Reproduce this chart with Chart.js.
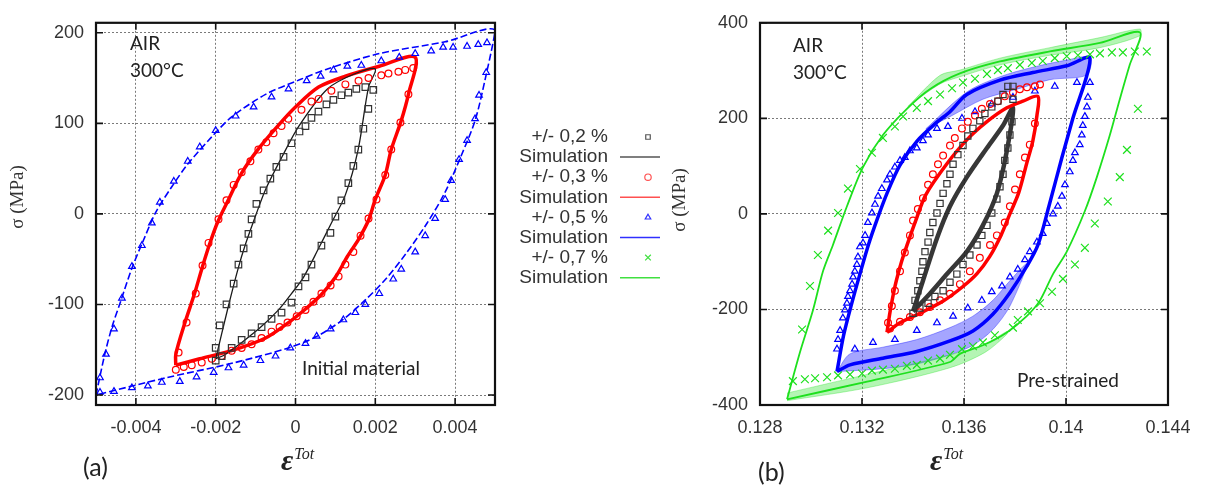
<!DOCTYPE html>
<html>
<head>
<meta charset="utf-8">
<script src="https://cdn.jsdelivr.net/npm/chart.js@4.4.1/dist/chart.umd.min.js"></script>
<style>
  body { margin: 0; background: #fff; }
  .wrap { position: relative; width: 1206px; height: 490px; }
  .wrap canvas { position: absolute; left: 0; top: 0; }
</style>
</head>
<body>
<div class="wrap">
  <canvas id="chartA" width="1206" height="490"></canvas>
  <canvas id="chartB" width="1206" height="490"></canvas>
</div>
<script>
// ---- panel (a) : initial material ----
const xTicksA = [-0.004, -0.002, 0, 0.002, 0.004];
const yTicksA = [-200, -100, 0, 100, 200];

const expA02 = [[-0.002,-148],[-0.0019,-123],[-0.00173,-100],[-0.00155,-77],[-0.00143,-56],[-0.0013,-38],[-0.00118,-22],
  [-0.0011,-6],[-0.00098,11],[-0.0008,26],[-0.00063,39],[-0.00048,52],[-0.0003,63],[-0.0001,78],[0.0001,91],[0.00025,97],
  [0.0004,106],[0.000575,113],[0.000775,121],[0.00095,126],[0.00115,131],[0.001325,134],[0.001525,138],[0.00175,140],[0.00195,137],
  [0.001825,116],[0.0017,94],[0.001575,71],[0.00145,53],[0.001325,34],[0.00115,15],[0.001,-3],[0.000875,-21],[0.00065,-35],
  [0.0004,-56],[0.00025,-70],[0.000075,-80],[-0.0001,-98],[-0.00035,-109],[-0.0006,-116],[-0.00085,-125],[-0.0011,-132],
  [-0.00135,-139],[-0.0016,-148],[-0.00185,-157],[-0.002,-162]];
const simA02 = [[-0.002,-160],[-0.0017,-105],[-0.00143,-59],[-0.00125,-33],[-0.001,-2],[-0.00075,27],[-0.00035,62],[0.0001,98],
  [0.0008,138],[0.0015,155],[0.002,160],[0.00183,140],[0.00157,71],[0.00125,21],[0.0009,-10],[0.00058,-38],[0.0002,-70],
  [-0.0001,-88],[-0.000425,-106],[-0.000925,-127],[-0.00175,-155],[-0.002,-160]];

const expA03 = [[-0.00293,-153],[-0.00273,-120],[-0.0025,-88],[-0.00233,-57],[-0.00218,-32],[-0.00193,-6],[-0.00173,15],
  [-0.00155,32],[-0.00135,46],[-0.00113,58],[-0.00093,71],[-0.00073,79],[-0.00055,89],[-0.00035,97],[-0.00018,105],[0.00015,115],
  [0.0004,124],[0.00058,127],[0.0009,136],[0.00125,143],[0.00158,147],[0.00183,150],[0.00215,153],[0.00233,155],[0.00258,157],
  [0.00275,159],[0.00295,161],[0.00283,132],[0.00263,101],[0.0024,71],[0.00225,43],[0.00203,16],[0.00183,-5],[0.00163,-24],
  [0.00145,-42],[0.00125,-56],[0.00108,-69],[0.00088,-79],[0.00065,-88],[0.00045,-97],[0.00025,-106],[0.00003,-113],[-0.0002,-120],
  [-0.0004,-125],[-0.0006,-130],[-0.00085,-137],[-0.0011,-144],[-0.00135,-148],[-0.0016,-151],[-0.00185,-157],[-0.0021,-160],
  [-0.00235,-164],[-0.0026,-167],[-0.0028,-169],[-0.003,-172]];
const simA03 = [[-0.003,-167],[-0.003,-155],[-0.00277,-120],[-0.00253,-88],[-0.00233,-58],[-0.00215,-33],[-0.00195,-9],
  [-0.0017,14],[-0.00135,45],[-0.000925,72],[-0.000425,98],[0,118],[0.00058,140],[0.00125,152],[0.0021,163],[0.003,173],
  [0.00283,132],[0.00265,103],[0.0024,71],[0.00225,43],[0.002,16],[0.00183,-7],[0.00158,-28],[0.0013,-47],[0.001,-70],
  [0.00065,-89],[0.00025,-105],[-0.000175,-120],[-0.00075,-137],[-0.0016,-151],[-0.0024,-160],[-0.003,-167]];

const expA05 = [[-0.0049,-181],[-0.00475,-155],[-0.00455,-127],[-0.00435,-93],[-0.0041,-58],[-0.00385,-35],[-0.0036,-10],
  [-0.0034,13],[-0.00305,36],[-0.0027,58],[-0.0024,74],[-0.002,92],[-0.0015,108],[-0.00105,118],[-0.0006,129],[-0.000175,138],
  [0.00028,147],[0.00063,152],[0.00095,159],[0.0013,163],[0.00165,164],[0.00215,169],[0.0026,173],[0.003,177],[0.0034,180],
  [0.0037,184],[0.00395,184],[0.0043,185],[0.00458,187],[0.0048,189],[0.00478,156],[0.0046,131],[0.0045,105],[0.0043,81],
  [0.0041,60],[0.0039,37],[0.00375,16],[0.0035,-5],[0.00325,-24],[0.003,-42],[0.00265,-61],[0.00245,-72],[0.0021,-88],
  [0.00175,-100],[0.0015,-109],[0.0012,-117],[0.00088,-127],[0.00053,-135],[0.00025,-143],[-0.00013,-148],[-0.0005,-157],
  [-0.00088,-162],[-0.0013,-167],[-0.00168,-170],[-0.00205,-175],[-0.00248,-180],[-0.0029,-185],[-0.00335,-186],[-0.0037,-190],
  [-0.0041,-192],[-0.00455,-196],[-0.0049,-197]];
const simA05 = [[-0.005,-200],[-0.00478,-155],[-0.0046,-125],[-0.00437,-95],[-0.0041,-60],[-0.0038,-28],[-0.0035,2],
  [-0.0031,30],[-0.0027,55],[-0.0021,85],[-0.0016,107],[-0.00075,132],[0.0001,148],[0.0008,160],[0.0021,177],[0.00375,190],
  [0.005,203],[0.00475,148],[0.0045,103],[0.00415,64],[0.00375,24],[0.0033,-10],[0.0028,-42],[0.0023,-70],[0.00175,-95],
  [0.00115,-118],[0.0005,-136],[-0.000175,-148],[-0.0016,-165],[-0.00325,-181],[-0.005,-200]];

// ---- panel (b) : pre-strained ----
const xTicksB = [0.128, 0.132, 0.136, 0.14, 0.144];
const yTicksB = [-400, -200, 0, 200, 400];

const expB02 = [[0.134,-208],[0.13408,-181],[0.13419,-161],[0.13427,-140],[0.13435,-120],[0.13439,-100],[0.13447,-79],
  [0.13459,-59],[0.13466,-39],[0.13478,-18],[0.13494,2],[0.13506,22],[0.13518,43],[0.13533,63],[0.13545,83],[0.13557,104],
  [0.13576,124],[0.13596,143],[0.13615,163],[0.13635,179],[0.13662,195],[0.13682,210],[0.13709,224],[0.13733,236],[0.13753,250],
  [0.13772,267],[0.13792,267],[0.13792,240],[0.13788,193],[0.1378,165],[0.13772,138],[0.1376,112],[0.13753,83],[0.13741,57],
  [0.13729,31],[0.13709,2],[0.1369,-24],[0.1367,-45],[0.13651,-65],[0.13623,-86],[0.13596,-106],[0.13572,-126],[0.13545,-143],
  [0.13518,-161],[0.13486,-173],[0.13459,-187],[0.13427,-197]];
const simB02 = [[0.134,-204],[0.13439,-140],[0.13494,-51],[0.13545,16],[0.13611,77],[0.1369,138],[0.13753,185],[0.13792,222],
  [0.13768,132],[0.13729,43],[0.13674,-24],[0.13611,-79],[0.13533,-126],[0.13466,-167],[0.134,-204]];

const expB03 = [[0.13302,-228],[0.13317,-193],[0.13329,-161],[0.13349,-120],[0.13368,-81],[0.13388,-45],[0.134,-14],[0.13419,10],
  [0.13439,33],[0.13459,61],[0.13478,83],[0.13498,104],[0.13518,122],[0.13545,143],[0.13564,159],[0.13592,179],[0.13615,193],
  [0.13643,206],[0.1367,220],[0.13702,230],[0.13733,236],[0.1376,246],[0.13792,254],[0.13819,261],[0.13847,265],[0.13878,267],
  [0.13898,271],[0.13878,189],[0.13858,145],[0.13839,118],[0.13819,83],[0.138,51],[0.1378,16],[0.1376,-18],[0.13729,-45],
  [0.13702,-65],[0.13662,-92],[0.13623,-120],[0.13584,-147],[0.13545,-167],[0.13506,-181],[0.13466,-195],[0.13427,-206],
  [0.13388,-216],[0.13349,-226],[0.1331,-240]];
const simB03 = [[0.13298,-248],[0.1331,-205],[0.1333,-150],[0.13355,-100],[0.1338,-60],[0.1341,-15],[0.1345,40],[0.13533,105],
  [0.13611,155],[0.1369,193],[0.13768,222],[0.13831,236],[0.1389,246],[0.13886,206],[0.1387,153],[0.13845,104],[0.13815,45],
  [0.1378,0],[0.13745,-45],[0.137,-90],[0.13651,-125],[0.13596,-152],[0.1352,-182],[0.13439,-205],[0.13349,-228],[0.13298,-248]];

const expB05 = [[0.13102,-283],[0.13106,-263],[0.13114,-244],[0.13125,-218],[0.13133,-201],[0.13141,-187],[0.13145,-173],
  [0.13153,-161],[0.13161,-147],[0.13165,-132],[0.13172,-120],[0.1318,-106],[0.13184,-90],[0.13192,-69],[0.13204,-61],
  [0.13212,-45],[0.13223,-18],[0.13239,2],[0.13251,20],[0.13263,37],[0.13278,53],[0.13298,71],[0.1331,83],[0.13329,98],
  [0.13349,112],[0.13368,118],[0.13388,132],[0.13415,138],[0.13439,153],[0.13459,165],[0.13494,179],[0.13537,183],[0.13592,200],
  [0.13643,214],[0.13709,230],[0.13792,244],[0.13878,257],[0.13956,267],[0.14043,275],[0.14094,275],[0.14086,244],[0.14082,224],
  [0.14074,204],[0.14066,185],[0.14062,165],[0.14054,145],[0.14035,128],[0.14027,112],[0.14015,88],[0.13996,61],[0.13984,37],
  [0.13968,16],[0.13949,0],[0.13925,-20],[0.13909,-41],[0.13886,-59],[0.13858,-79],[0.13839,-96],[0.13811,-116],[0.1378,-132],
  [0.13749,-151],[0.13709,-163],[0.1367,-181],[0.13615,-197],[0.13557,-214],[0.13494,-228],[0.13415,-244],[0.13329,-263],
  [0.13243,-269],[0.13172,-283]];
const simB05 = [[0.13102,-330],[0.13128,-254],[0.13163,-181],[0.13195,-120],[0.13225,-65],[0.13259,-12],[0.13298,43],[0.13349,102],
  [0.13415,152],[0.13494,192],[0.13545,214],[0.13611,250],[0.13741,280],[0.1387,296],[0.14003,310],[0.14094,326],[0.14027,200],
  [0.13984,118],[0.13933,16],[0.1389,-65],[0.13846,-110],[0.1378,-165],[0.13713,-210],[0.13635,-245],[0.13545,-266],
  [0.13415,-288],[0.13282,-302],[0.13153,-316],[0.13102,-330]];
const bandB05up = [[0.1345,178],[0.13611,255],[0.13741,287],[0.1387,307],[0.14003,322],[0.14094,328],[0.14082,291],
  [0.13937,281],[0.13807,261],[0.13674,240],[0.1355,205],[0.1345,178]];
const bandB05low = [[0.13102,-330],[0.13153,-293],[0.13282,-279],[0.13415,-263],[0.13545,-238],[0.13635,-214],[0.13713,-181],
  [0.1378,-140],[0.13846,-105],[0.1378,-193],[0.13713,-242],[0.13635,-275],[0.13545,-295],[0.13415,-314],[0.13282,-324],
  [0.13102,-330]];

const expB07 = [[0.12929,-350],[0.12965,-242],[0.12996,-151],[0.13027,-86],[0.13067,-35],[0.13106,2],[0.13145,53],[0.13192,94],
  [0.13239,128],[0.13282,159],[0.13329,183],[0.13361,204],[0.13415,222],[0.13459,236],[0.13506,250],[0.13553,263],[0.13596,275],
  [0.13643,283],[0.1369,293],[0.13733,301],[0.13772,305],[0.13819,312],[0.13866,316],[0.13909,320],[0.13956,326],[0.14003,330],
  [0.14047,332],[0.14094,334],[0.14133,336],[0.1418,338],[0.14223,338],[0.1427,340],[0.14317,340],[0.14282,220],[0.14239,134],
  [0.14211,77],[0.14164,26],[0.14113,-20],[0.14074,-71],[0.14035,-106],[0.13988,-136],[0.13945,-163],[0.13898,-187],
  [0.13851,-204],[0.13811,-222],[0.13792,-238],[0.13721,-254],[0.13674,-269],[0.13635,-277],[0.13592,-283],[0.13545,-295],
  [0.13506,-303],[0.13459,-307],[0.13415,-316],[0.13376,-318],[0.13329,-324],[0.13282,-326],[0.13239,-328],[0.132,-334],
  [0.13153,-336],[0.13106,-338],[0.13063,-342],[0.13016,-344],[0.12976,-346]];
const simB07 = [[0.12906,-388],[0.12957,-289],[0.13008,-201],[0.13047,-120],[0.13086,-65],[0.13141,16],[0.13204,98],[0.13282,165],
  [0.13376,220],[0.13466,261],[0.13584,294],[0.13741,319],[0.13937,340],[0.14133,358],[0.1429,380],[0.1425,312],[0.14211,240],
  [0.14172,165],[0.14121,77],[0.14074,6],[0.14003,-79],[0.13949,-126],[0.13898,-181],[0.13846,-214],[0.13768,-248],
  [0.13674,-275],[0.13584,-293],[0.13545,-310],[0.1322,-351],[0.12906,-388]];
const bandB07up = [[0.1338,225],[0.13506,290],[0.13584,301],[0.13741,326],[0.13937,348],[0.14133,369],[0.1429,387],[0.1429,373],
  [0.14133,348],[0.13937,332],[0.13741,312],[0.13584,287],[0.13506,272],[0.1338,225]];
const bandB07low = [[0.12906,-375],[0.1322,-336],[0.13545,-295],[0.13682,-273],[0.13768,-246],[0.13768,-252],[0.13682,-290],
  [0.13545,-322],[0.1322,-364],[0.12906,-391]];

const legendLabels = ['+/- 0,2 %', 'Simulation', '+/- 0,3 %', 'Simulation', '+/- 0,5 %', 'Simulation', '+/- 0,7 %', 'Simulation'];

const BLACK = '#1a1a1a', RED = '#ff0000', BLUE = '#0000ff', GREEN = '#1ee01e';

const pts = arr => arr.map(([x, y]) => ({ x, y }));

function expSet(data, style, color, r) {
  return { data: pts(data), showLine: false, pointStyle: style, pointRadius: r, pointBorderColor: color,
    pointBackgroundColor: 'rgba(0,0,0,0)', pointBorderWidth: 1.2, order: 1 };
}
function simSet(data, color, width, dash) {
  return { data: pts(data), showLine: true, borderColor: color, borderWidth: width, borderDash: dash || [],
    pointRadius: 0, tension: 0.3, fill: false, order: 2 };
}
function bandSet(data, color) {
  return { data: pts(data), showLine: true, fill: 'shape', backgroundColor: color, borderColor: color,
    borderWidth: 1, pointRadius: 0, tension: 0.3, order: 3 };
}

const fmt = v => String(parseFloat(Number(v).toFixed(4)));
const tickFont = { family: 'Liberation Sans', size: 18 };

function axes(xmin, xmax, xt, ymin, ymax, yt, yWidth) {
  return {
    x: {
      type: 'linear', min: xmin, max: xmax,
      afterBuildTicks: s => { s.ticks = xt.map(v => ({ value: v })); },
      afterFit: s => { s.height = 85; },
      ticks: { callback: fmt, font: tickFont, color: '#333', padding: 12, maxRotation: 0, autoSkip: false },
      grid: { drawTicks: false, color: '#7a7a7a', lineWidth: 1 },
      border: { display: false, dash: [2, 2] }
    },
    y: {
      type: 'linear', min: ymin, max: ymax,
      afterBuildTicks: s => { s.ticks = yt.map(v => ({ value: v })); },
      afterFit: s => { s.width = yWidth; },
      ticks: { callback: fmt, font: tickFont, color: '#333', padding: 12, autoSkip: false },
      grid: { drawTicks: false, color: '#7a7a7a', lineWidth: 1 },
      border: { display: false, dash: [2, 2] }
    }
  };
}

// frame around the plot with inward tick marks
const framePlugin = {
  id: 'frame',
  afterDatasetsDraw(chart) {
    const { ctx, chartArea: a, scales: { x, y } } = chart;
    ctx.save();
    ctx.strokeStyle = '#111';
    ctx.lineWidth = 1.6;
    ctx.beginPath();
    x.ticks.forEach(t => {
      const p = x.getPixelForValue(t.value);
      ctx.moveTo(p, a.top); ctx.lineTo(p, a.top + 7);
      ctx.moveTo(p, a.bottom); ctx.lineTo(p, a.bottom - 7);
    });
    y.ticks.forEach(t => {
      const p = y.getPixelForValue(t.value);
      ctx.moveTo(a.left, p); ctx.lineTo(a.left + 7, p);
      ctx.moveTo(a.right, p); ctx.lineTo(a.right - 7, p);
    });
    ctx.stroke();
    ctx.lineWidth = 2.2;
    ctx.strokeRect(a.left, a.top, a.right - a.left, a.bottom - a.top);
    ctx.restore();
  }
};

function textPlugin(id, t) {
  return {
    id: id,
    afterDraw(chart) {
      const ctx = chart.ctx;
      ctx.save();
      ctx.fillStyle = '#222';
      ctx.textBaseline = 'alphabetic';
      ctx.textAlign = 'left';
      ctx.font = '19px Lato';
      ctx.fillText('AIR', t.airX, t.airY);
      ctx.fillText('300°C', t.airX, t.airY + 27);
      ctx.fillText(t.note, t.noteX, t.noteY);
      ctx.font = '25px Lato';
      ctx.fillText(t.tag, t.tagX, t.tagY);
      // x axis title
      ctx.font = 'italic bold 30px "Liberation Serif"';
      ctx.fillText('ε', t.epsX, 470);
      const w = ctx.measureText('ε').width;
      ctx.font = 'italic 16px "Liberation Serif"';
      ctx.fillText('Tot', t.epsX + w + 1, 459);
      // y axis title
      ctx.font = '19px "Liberation Serif"';
      ctx.fillStyle = '#333';
      ctx.translate(t.sigX, t.sigY);
      ctx.rotate(-Math.PI / 2);
      ctx.textAlign = 'center';
      ctx.textBaseline = 'middle';
      ctx.fillText('σ (MPa)', 0, 0);
      ctx.restore();
    }
  };
}

const legendPlugin = {
  id: 'legendMid',
  afterDraw(chart) {
    const ctx = chart.ctx;
    const colors = ['#555', '#ff5050', '#3030ff', '#40e040'];
    const styles = ['rect', 'circle', 'triangle', 'crossRot'];
    ctx.save();
    ctx.font = '19px "Liberation Sans"';
    ctx.textAlign = 'right';
    ctx.textBaseline = 'middle';
    legendLabels.forEach((lab, i) => {
      const yy = 137 + i * 20.1;
      ctx.fillStyle = '#333';
      ctx.fillText(lab, 608, yy);
      const c = colors[Math.floor(i / 2)];
      ctx.strokeStyle = c;
      if (i % 2 === 0) {
        const st = styles[i / 2];
        ctx.fillStyle = 'rgba(0,0,0,0)';
        ctx.lineWidth = 1.2;
        Chart.helpers.drawPoint(ctx, { pointStyle: st, radius: st === 'rect' ? 3.2 : (st === 'crossRot' ? 4 : 3.2),
          borderWidth: 1.2 }, 648, yy);
      } else {
        ctx.lineWidth = 1.5;
        ctx.beginPath(); ctx.moveTo(620, yy); ctx.lineTo(660, yy); ctx.stroke();
      }
    });
    ctx.restore();
  }
};

const chartA = new Chart(document.getElementById('chartA'), {
  type: 'scatter',
  data: {
    datasets: [
      simSet(simA02, BLACK, 1.3),
      simSet(simA03, RED, 3.5),
      simSet(simA05, BLUE, 1.6, [7, 3]),
      expSet(expA02, 'rect', '#333', 4.6),
      expSet(expA03, 'circle', RED, 3.4),
      expSet(expA05, 'triangle', BLUE, 3.8)
    ]
  },
  options: {
    responsive: false, animation: false, devicePixelRatio: 1,
    layout: { padding: { left: 0, top: 6, right: 711, bottom: 0 } },
    plugins: { legend: { display: false }, tooltip: { enabled: false } },
    scales: axes(-0.005, 0.005, xTicksA, -211, 211, yTicksA, 96)
  },
  plugins: [framePlugin, legendPlugin,
    textPlugin('txtA', { airX: 130, airY: 50, note: 'Initial material', noteX: 302, noteY: 375,
      tag: '(a)', tagX: 83, tagY: 476, epsX: 281, sigX: 18, sigY: 197 })]
});

const chartB = new Chart(document.getElementById('chartB'), {
  type: 'scatter',
  data: {
    datasets: [
      bandSet(bandB07up, 'rgba(40,225,40,0.35)'),
      bandSet(bandB07low, 'rgba(40,225,40,0.35)'),
      bandSet(bandB05up, 'rgba(30,30,255,0.4)'),
      bandSet(bandB05low, 'rgba(30,30,255,0.4)'),
      simSet(simB07, GREEN, 1.8),
      simSet(simB05, BLUE, 3.5),
      simSet(simB03, RED, 3.5),
      simSet(simB02, 'rgba(20,20,20,0.85)', 4.5),
      expSet(expB02, 'rect', '#333', 4.4),
      expSet(expB03, 'circle', RED, 3.4),
      expSet(expB05, 'triangle', BLUE, 3.8),
      expSet(expB07, 'crossRot', GREEN, 5.5)
    ]
  },
  options: {
    responsive: false, animation: false, devicePixelRatio: 1,
    layout: { padding: { left: 0, top: 12, right: 38, bottom: 0 } },
    plugins: { legend: { display: false }, tooltip: { enabled: false } },
    scales: axes(0.128, 0.144, xTicksB, -400, 400, yTicksB, 760)
  },
  plugins: [framePlugin,
    textPlugin('txtB', { airX: 793, airY: 52, note: 'Pre-strained', noteX: 1017, noteY: 387,
      tag: '(b)', tagX: 758, tagY: 481, epsX: 930, sigX: 680, sigY: 200 })]
});
</script>
</body>
</html>
